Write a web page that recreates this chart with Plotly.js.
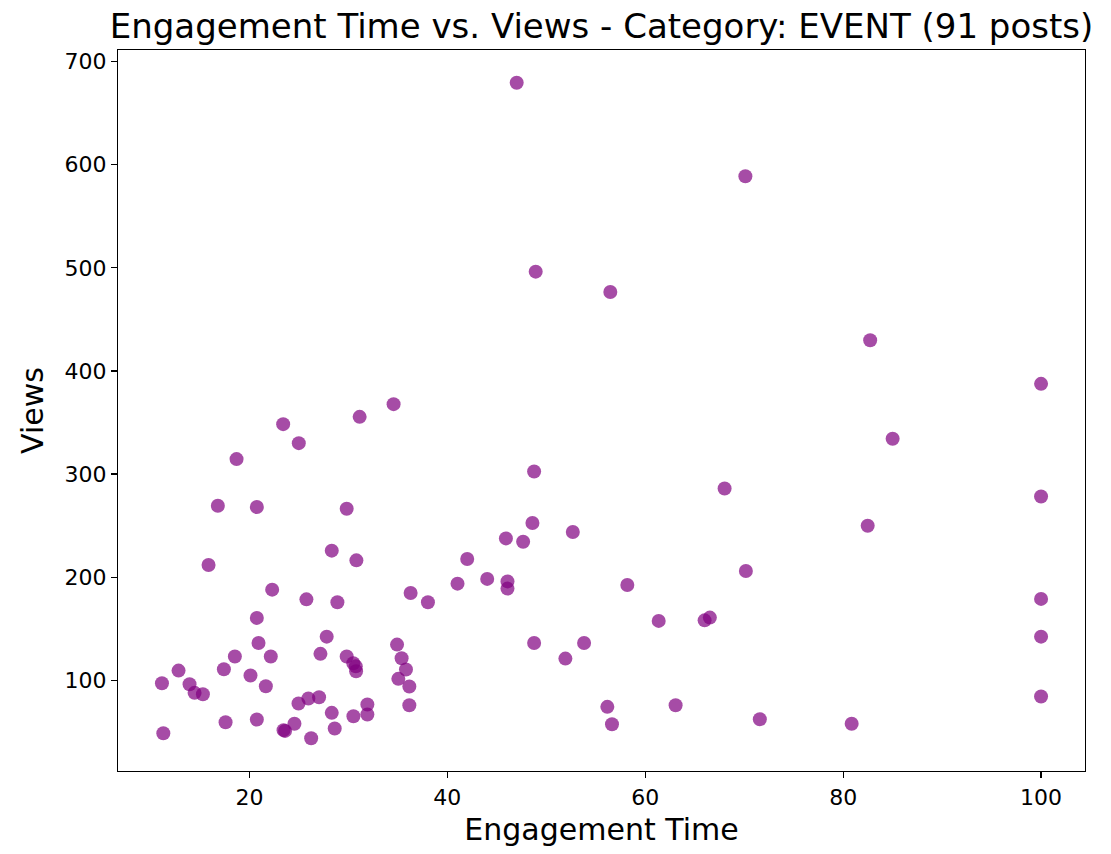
<!DOCTYPE html>
<html>
<head>
<meta charset="utf-8">
<script src="https://cdn.plot.ly/plotly-3.0.1.min.js"></script>
<style>html,body{margin:0;padding:0;background:#fff}#chart{width:1111px;height:854px}</style>
</head>
<body>
<div id="chart"></div>
<script>
const engagementTime = [
  34.57, 31.14, 23.41, 24.99, 18.70, 16.81, 20.75, 29.83, 28.32, 30.81,
  15.87, 22.30, 25.76, 28.89, 36.29, 38.04, 20.75, 20.92, 27.81, 34.92,
  18.53, 22.16, 27.18, 29.83, 30.50, 30.75, 30.78, 35.38, 35.82, 35.05,
  36.16, 36.16, 12.84, 11.16, 17.42, 20.11, 21.66, 13.95, 14.46, 15.30,
  24.96, 25.96, 27.04, 28.32, 30.51, 31.92, 31.92, 17.59, 20.75, 24.55,
  23.45, 23.60, 28.62, 26.24, 11.30,
  48.77, 48.60, 52.68, 45.92, 47.66, 42.01, 41.03, 44.03, 46.08, 46.08,
  58.19, 61.36, 48.77, 53.82, 51.93, 56.17, 56.64, 63.07,
  85.00, 68.02, 82.48, 70.17, 66.00, 66.53, 71.58, 80.86,
  100, 100, 100, 100, 100,
  47.01, 70.12, 48.93, 56.47, 82.73
];
const views = [
  367.8, 355.5, 348.4, 330.0, 314.5, 269.3, 268.0, 266.4, 225.7, 216.3,
  211.8, 187.9, 178.5, 175.6, 184.7, 175.6, 160.5, 136.2, 142.3, 134.6,
  123.0, 123.0, 125.6, 123.0, 116.5, 113.5, 108.7, 121.3, 110.4, 101.4,
  93.9, 75.8, 109.4, 97.1, 110.7, 104.6, 94.2, 96.1, 87.8, 86.4,
  77.4, 82.3, 83.5, 68.4, 65.1, 76.5, 66.8, 59.3, 61.9, 57.8,
  51.6, 50.9, 53.2, 43.8, 48.6,
  302.5, 252.5, 243.8, 237.6, 234.4, 217.6, 193.7, 198.3, 195.9, 188.9,
  192.4, 157.6, 136.2, 136.2, 121.0, 74.2, 57.4, 75.8,
  334.2, 286.0, 249.9, 206.0, 158.1, 160.8, 62.2, 57.8,
  387.5, 278.3, 178.9, 142.3, 84.2,
  679.5, 588.8, 496.3, 476.6, 429.8
];
const titleText = 'Engagement Time vs. Views - Category: EVENT (91 posts)';
const xLabel = 'Engagement Time';
const yLabel = 'Views';
const xTicks = [20, 40, 60, 80, 100];
const yTicks = [100, 200, 300, 400, 500, 600, 700];

const font = 'DejaVu Sans, sans-serif';
const trace = {
  type: 'scatter', mode: 'markers',
  x: engagementTime, y: views,
  marker: {color: 'rgba(128,0,128,0.7)', size: 14, line: {width: 0}},
  hoverinfo: 'x+y'
};
const axisCommon = {
  showline: true, mirror: true, linecolor: '#000', linewidth: 1.2,
  ticks: 'outside', ticklen: 6, tickwidth: 1.2, tickcolor: '#000',
  showgrid: false, zeroline: false,
  tickfont: {family: font, size: 22, color: '#000'}
};
const layout = {
  width: 1111, height: 854,
  paper_bgcolor: '#fff', plot_bgcolor: '#fff',
  margin: {l: 118, r: 26, t: 50, b: 83},
  showlegend: false,
  title: {text: titleText, font: {family: font, size: 34, color: '#000'},
          x: 0.5, xanchor: 'center', xref: 'paper', y: 1 - 26/854, yanchor: 'middle', yref: 'container'},
  xaxis: Object.assign({}, axisCommon, {
    range: [6.72, 104.44], tickvals: xTicks, ticktext: xTicks.map(String),
    title: {text: xLabel, font: {family: font, size: 30, color: '#000'}, standoff: 10}
  }),
  yaxis: Object.assign({}, axisCommon, {
    range: [12, 711.3], tickvals: yTicks, ticktext: yTicks.map(String),
    title: {text: yLabel, font: {family: font, size: 30, color: '#000'}, standoff: 12}
  })
};
Plotly.newPlot('chart', [trace], layout, {displayModeBar: false, staticPlot: true});
</script>
</body>
</html>
